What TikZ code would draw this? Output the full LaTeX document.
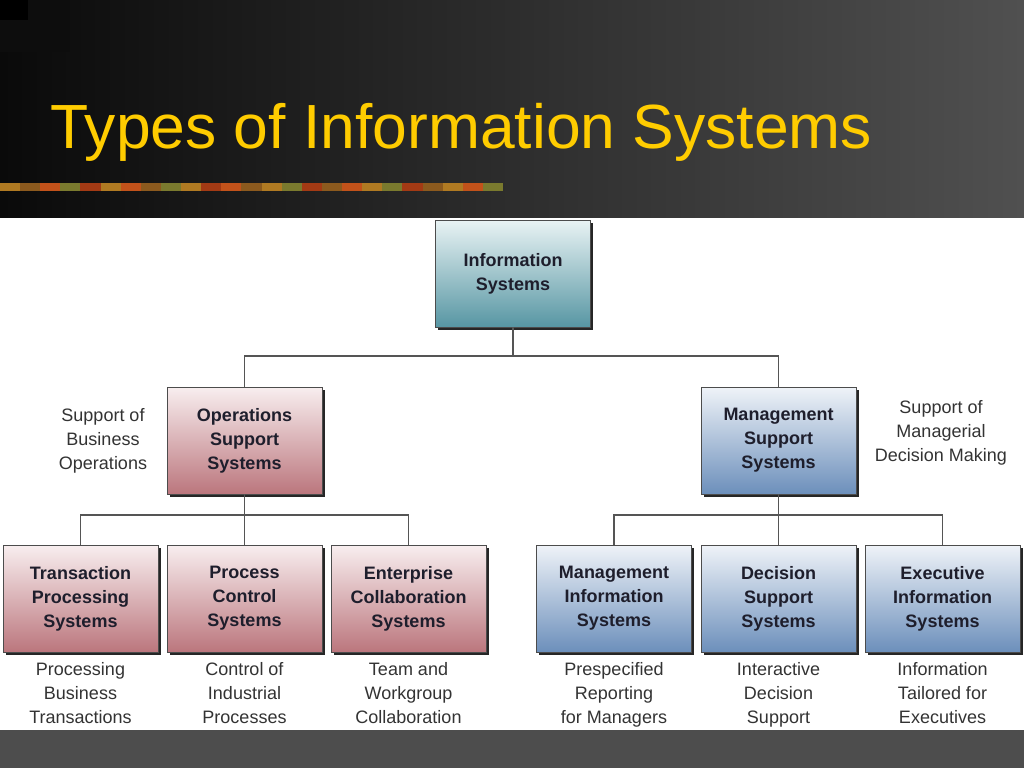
\documentclass[tikz,border=0pt]{standalone}
\usepackage{fontspec}
\setmainfont{Liberation Sans}
\usetikzlibrary{shadows}
\definecolor{titleyellow}{HTML}{FFCC00}
\definecolor{boxtext}{HTML}{1E1E2C}
\definecolor{desctext}{HTML}{333333}
\definecolor{linegray}{HTML}{555555}
\definecolor{istop}{HTML}{E9F3F4}
\definecolor{isbot}{HTML}{5796A3}
\definecolor{redtop}{HTML}{F8EEEF}
\definecolor{redbot}{HTML}{BB767D}
\definecolor{bluetop}{HTML}{EFF3F8}
\definecolor{bluebot}{HTML}{6C8FBB}
\definecolor{hdrleft}{HTML}{0A0A0A}
\definecolor{hdrmid}{HTML}{2E2E2E}
\definecolor{hdrright}{HTML}{505050}
\definecolor{band}{HTML}{4D4D4D}
\definecolor{barA}{HTML}{B07A22}
\definecolor{barB}{HTML}{8C5A1E}
\definecolor{barC}{HTML}{C2521A}
\definecolor{barD}{HTML}{7A7A2E}
\definecolor{barE}{HTML}{A33A14}
\begin{document}
\begin{tikzpicture}[x=1pt,y=-1pt,
  basebox/.style={rectangle, draw=black!70, line width=0.8pt,
    minimum width=155pt, minimum height=107pt, inner sep=0pt,
    align=center, text=boxtext,
    font=\fontsize{18}{24}\selectfont\bfseries,
    drop shadow={shadow xshift=2.5pt,shadow yshift=-2.5pt,fill=black!85,opacity=1}},
  isbox/.style={basebox, top color=istop, bottom color=isbot},
  redbox/.style={basebox, top color=redtop, bottom color=redbot},
  bluebox/.style={basebox, top color=bluetop, bottom color=bluebot},
  desc/.style={align=center, text=desctext, inner sep=0pt,
    font=\fontsize{18}{24}\selectfont,
    execute at begin node=\strut, execute at end node=\strut},
  conn/.style={draw=linegray, line width=1.4pt}
]
\useasboundingbox (0,0) rectangle (1024,768);
\fill[white] (0,0) rectangle (1024,768);
% header
\shade[left color=hdrleft, middle color=hdrmid, right color=hdrright] (0,0) rectangle (1024,217);
\fill[black!95] (0,0) rectangle (70,52);
\fill[black] (0,0) rectangle (28,20);
% decorative bar
\foreach \i/\c in {0/barA,1/barB,2/barC,3/barD,4/barE,5/barA,6/barC,7/barB,8/barD,9/barA,
  10/barE,11/barC,12/barB,13/barA,14/barD,15/barE,16/barB,17/barC,18/barA,19/barD,
  20/barE,21/barB,22/barA,23/barC,24/barD}
  \fill[\c] (\i*20.12,183) rectangle (\i*20.12+20.12,191);
\node[anchor=base west, inner sep=0pt, text=titleyellow,
  font=\fontsize{62.4}{70}\selectfont] (title) at (50,148) {Types of Information Systems};
% bottom band
\fill[band] (0,730) rectangle (1024,768);

% boxes
\node[isbox] (is) at (513,273.5) {Information\\Systems};
\node[redbox] (oss) at (244.5,440.5) {Operations\\Support\\Systems};
\node[bluebox] (mss) at (778.5,440.5) {Management\\Support\\Systems};
\node[redbox] (tps) at (80.5,598.5) {Transaction\\Processing\\Systems};
\node[redbox] (pcs) at (244.5,598.5) {Process\\Control\\Systems};
\node[redbox] (ecs) at (408.5,598.5) {Enterprise\\Collaboration\\Systems};
\node[bluebox] (mis) at (614,598.5) {Management\\Information\\Systems};
\node[bluebox] (dss) at (778.5,598.5) {Decision\\Support\\Systems};
\node[bluebox] (eis) at (942.5,598.5) {Executive\\Information\\Systems};

% junctions
\coordinate (j0) at (513,356);
\coordinate (j1) at (244.5,515);
\coordinate (j2) at (778.5,515);

% connectors
\draw[conn] (is.south) -- (j0) -| (oss.north);
\draw[conn] (j0) -| (mss.north);
\draw[conn] (oss.south) -- (j1) -| (tps.north);
\draw[conn] (j1) -- (pcs.north);
\draw[conn] (j1) -| (ecs.north);
\draw[conn] (mss.south) -- (j2) -| (mis.north);
\draw[conn] (j2) -- (dss.north);
\draw[conn] (j2) -| (eis.north);

% descriptions
\node[desc] (dl) at (103,443) {Support of\\Business\\Operations};
\node[desc] (dr) at (941,434.5) {Support of\\Managerial\\Decision Making};
\node[desc] (dtps) at (80.5,696.5) {Processing\\Business\\Transactions};
\node[desc] (dpcs) at (244.5,696.5) {Control of\\Industrial\\Processes};
\node[desc] (decs) at (408.5,696.5) {Team and\\Workgroup\\Collaboration};
\node[desc] (dmis) at (614,696.5) {Prespecified\\Reporting\\for Managers};
\node[desc] (ddss) at (778.5,696.5) {Interactive\\Decision\\Support};
\node[desc] (deis) at (942.5,696.5) {Information\\Tailored for\\Executives};
\end{tikzpicture}
\end{document}
